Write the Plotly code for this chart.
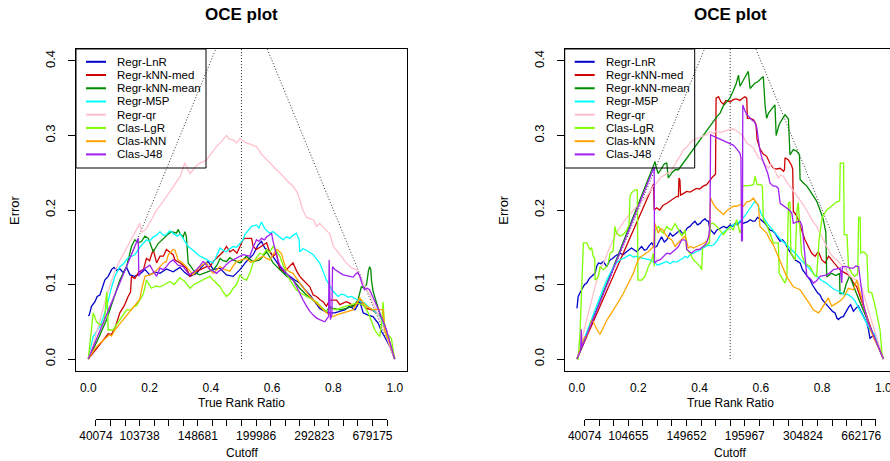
import plotly.graph_objects as go

W, H = 890, 461
FONT = "Liberation Sans, Arial, Helvetica, sans-serif"

SERIES_NAMES = ["Regr-LnR", "Regr-kNN-med", "Regr-kNN-mean", "Regr-M5P",
                "Regr-qr", "Clas-LgR", "Clas-kNN", "Clas-J48"]
SERIES_COLORS = ["#0000CD", "#CD0000", "#008B00", "#00FFFF",
                 "#FFC0CB", "#7FFF00", "#FFA500", "#A020F0"]

X_TICKS = [0.0, 0.2, 0.4, 0.6, 0.8, 1.0]
Y_TICKS = [0.0, 0.1, 0.2, 0.3, 0.4]

LEFT_CUTOFF_LABELS = ["40074", "103738", "148681", "199986", "292823", "679175"]
RIGHT_CUTOFF_LABELS = ["40074", "104655", "149652", "195967", "304824", "662176"]
CUTOFF_LABEL_SLOTS = [0, 3, 7, 11, 15, 19]
CUTOFF_TICK_COUNT = 21
CUTOFF_SPAN = (0.025, 0.975)

# ---------------- left panel: (true rank ratio, error) ----------------
LEFT_LNR = [(0, 0.058), (0.003, 0.059), (0.011, 0.071), (0.022, 0.077), (0.029, 0.084),
            (0.038, 0.086), (0.047, 0.097), (0.054, 0.106), (0.065, 0.111), (0.076, 0.120),
            (0.084, 0.123), (0.092, 0.119), (0.103, 0.121), (0.114, 0.116), (0.125, 0.123),
            (0.136, 0.113), (0.152, 0.111), (0.168, 0.114), (0.185, 0.120), (0.201, 0.113),
            (0.217, 0.117), (0.234, 0.115), (0.255, 0.121), (0.277, 0.117), (0.299, 0.123),
            (0.315, 0.116), (0.332, 0.111), (0.353, 0.115), (0.375, 0.126), (0.391, 0.131),
            (0.408, 0.120), (0.429, 0.122), (0.451, 0.113), (0.473, 0.111), (0.495, 0.120),
            (0.516, 0.131), (0.538, 0.140), (0.554, 0.153), (0.565, 0.158), (0.576, 0.149),
            (0.592, 0.144), (0.609, 0.133), (0.625, 0.124), (0.641, 0.115), (0.658, 0.111),
            (0.674, 0.106), (0.690, 0.102), (0.707, 0.093), (0.723, 0.086), (0.739, 0.077),
            (0.755, 0.068), (0.772, 0.064), (0.788, 0.062), (0.804, 0.062), (0.821, 0.064),
            (0.837, 0.066), (0.853, 0.071), (0.870, 0.066), (0.886, 0.077), (0.897, 0.062),
            (0.913, 0.059), (0.929, 0.057), (0.946, 0.048), (0.957, 0.037), (0.967, 0.030),
            (0.984, 0.017), (1.0, 0.0)]

LEFT_KNN_MED = [(0, 0), (0.04, 0.02), (0.065, 0.034), (0.076, 0.033), (0.09, 0.045),
                (0.103, 0.062), (0.118, 0.072), (0.13, 0.084), (0.138, 0.09), (0.141, 0.111),
                (0.152, 0.108), (0.165, 0.117), (0.18, 0.12), (0.19, 0.135), (0.2, 0.132),
                (0.212, 0.147), (0.223, 0.129), (0.234, 0.138), (0.245, 0.138), (0.255, 0.147),
                (0.266, 0.144), (0.277, 0.14), (0.283, 0.133), (0.3, 0.129), (0.32, 0.122),
                (0.332, 0.111), (0.345, 0.116), (0.364, 0.12), (0.386, 0.124), (0.397, 0.124),
                (0.41, 0.132), (0.43, 0.14), (0.44, 0.144), (0.451, 0.151), (0.462, 0.144),
                (0.473, 0.147), (0.485, 0.142), (0.495, 0.151), (0.505, 0.16), (0.511, 0.162),
                (0.533, 0.162), (0.538, 0.151), (0.549, 0.147), (0.56, 0.15), (0.582, 0.156),
                (0.59, 0.146), (0.603, 0.138), (0.614, 0.142), (0.625, 0.12), (0.636, 0.118),
                (0.647, 0.12), (0.658, 0.125), (0.668, 0.129), (0.68, 0.118), (0.69, 0.111),
                (0.701, 0.106), (0.712, 0.102), (0.723, 0.097), (0.734, 0.086), (0.745, 0.084),
                (0.755, 0.08), (0.766, 0.077), (0.777, 0.071), (0.788, 0.079), (0.81, 0.079),
                (0.821, 0.073), (0.842, 0.077), (0.853, 0.075), (0.864, 0.071), (0.875, 0.073),
                (0.886, 0.08), (0.897, 0.072), (0.908, 0.068), (0.925, 0.066), (0.94, 0.062),
                (0.952, 0.058), (0.962, 0.053), (0.975, 0.035), (0.988, 0.018), (1, 0)]

LEFT_KNN_MEAN = [(0, 0), (0.03, 0.025), (0.06, 0.053), (0.082, 0.079), (0.103, 0.106),
                 (0.125, 0.124), (0.135, 0.14), (0.141, 0.151), (0.152, 0.16), (0.163, 0.156),
                 (0.174, 0.158), (0.185, 0.165), (0.196, 0.162), (0.205, 0.15), (0.212, 0.144),
                 (0.228, 0.155), (0.24, 0.16), (0.25, 0.164), (0.262, 0.168), (0.272, 0.171),
                 (0.288, 0.169), (0.293, 0.174), (0.3, 0.168), (0.31, 0.164), (0.315, 0.171),
                 (0.32, 0.165), (0.326, 0.129), (0.342, 0.12), (0.353, 0.115), (0.364, 0.113),
                 (0.386, 0.117), (0.408, 0.12), (0.42, 0.126), (0.43, 0.135), (0.44, 0.132),
                 (0.451, 0.131), (0.462, 0.136), (0.473, 0.133), (0.495, 0.129), (0.505, 0.133),
                 (0.516, 0.138), (0.527, 0.134), (0.538, 0.131), (0.56, 0.133), (0.571, 0.138),
                 (0.582, 0.144), (0.592, 0.137), (0.603, 0.129), (0.625, 0.12), (0.647, 0.111),
                 (0.668, 0.106), (0.68, 0.1), (0.69, 0.095), (0.712, 0.086), (0.734, 0.079),
                 (0.755, 0.071), (0.766, 0.066), (0.777, 0.064), (0.788, 0.07), (0.799, 0.068),
                 (0.821, 0.066), (0.842, 0.068), (0.864, 0.071), (0.88, 0.079), (0.888, 0.09),
                 (0.891, 0.097), (0.9, 0.095), (0.908, 0.1), (0.914, 0.118), (0.918, 0.124),
                 (0.922, 0.12), (0.924, 0.106), (0.93, 0.09), (0.94, 0.075), (0.952, 0.06),
                 (0.962, 0.048), (0.975, 0.032), (0.988, 0.016), (1, 0)]

LEFT_M5P = [(0, 0), (0.016, 0.03), (0.04, 0.045), (0.06, 0.07), (0.075, 0.095),
            (0.087, 0.111), (0.103, 0.124), (0.115, 0.128), (0.13, 0.136), (0.152, 0.14),
            (0.168, 0.15), (0.18, 0.156), (0.19, 0.16), (0.2, 0.158), (0.212, 0.164),
            (0.223, 0.166), (0.234, 0.171), (0.245, 0.166), (0.255, 0.167), (0.266, 0.172),
            (0.277, 0.169), (0.29, 0.165), (0.3, 0.168), (0.31, 0.162), (0.326, 0.151),
            (0.342, 0.146), (0.353, 0.142), (0.364, 0.138), (0.375, 0.136), (0.386, 0.133),
            (0.397, 0.131), (0.408, 0.129), (0.418, 0.138), (0.43, 0.149), (0.44, 0.146),
            (0.451, 0.144), (0.462, 0.148), (0.473, 0.151), (0.484, 0.15), (0.495, 0.155),
            (0.505, 0.16), (0.511, 0.167), (0.522, 0.172), (0.533, 0.178), (0.549, 0.18),
            (0.557, 0.176), (0.565, 0.184), (0.576, 0.175), (0.592, 0.169), (0.603, 0.171),
            (0.614, 0.167), (0.625, 0.163), (0.636, 0.16), (0.647, 0.164), (0.658, 0.162),
            (0.668, 0.166), (0.679, 0.169), (0.688, 0.16), (0.69, 0.144), (0.7, 0.148),
            (0.712, 0.146), (0.723, 0.143), (0.734, 0.14), (0.745, 0.134), (0.755, 0.129),
            (0.766, 0.118), (0.777, 0.106), (0.788, 0.098), (0.799, 0.091), (0.815, 0.084),
            (0.826, 0.087), (0.837, 0.086), (0.848, 0.083), (0.859, 0.084), (0.87, 0.081),
            (0.88, 0.079), (0.89, 0.077), (0.902, 0.075), (0.915, 0.07), (0.929, 0.066),
            (0.94, 0.062), (0.951, 0.057), (0.962, 0.048), (0.973, 0.035), (0.987, 0.018),
            (1, 0)]

LEFT_QR = [(0, 0), (0.02, 0.025), (0.04, 0.055), (0.06, 0.085), (0.08, 0.11), (0.1, 0.13),
           (0.12, 0.145), (0.14, 0.16), (0.16, 0.175), (0.168, 0.182), (0.175, 0.17),
           (0.19, 0.175), (0.21, 0.19), (0.223, 0.2), (0.245, 0.212), (0.266, 0.225),
           (0.277, 0.231), (0.3, 0.245), (0.315, 0.263), (0.332, 0.249), (0.35, 0.258),
           (0.364, 0.263), (0.386, 0.267), (0.4, 0.275), (0.418, 0.285), (0.435, 0.292),
           (0.451, 0.3), (0.46, 0.295), (0.473, 0.294), (0.485, 0.29), (0.495, 0.296),
           (0.505, 0.293), (0.516, 0.29), (0.53, 0.288), (0.549, 0.285), (0.565, 0.275),
           (0.582, 0.267), (0.6, 0.26), (0.614, 0.254), (0.63, 0.248), (0.647, 0.24),
           (0.668, 0.232), (0.68, 0.225), (0.69, 0.214), (0.7, 0.2), (0.712, 0.19),
           (0.734, 0.187), (0.745, 0.178), (0.755, 0.182), (0.77, 0.175), (0.788, 0.168),
           (0.8, 0.151), (0.82, 0.14), (0.842, 0.129), (0.86, 0.122), (0.875, 0.12),
           (0.885, 0.113), (0.9, 0.1), (0.92, 0.085), (0.94, 0.065), (0.96, 0.045),
           (0.98, 0.022), (1, 0)]

LEFT_LGR = [(0, 0), (0.005, 0.021), (0.011, 0.05), (0.016, 0.062), (0.027, 0.05),
            (0.038, 0.046), (0.05, 0.048), (0.055, 0.06), (0.06, 0.09), (0.063, 0.07),
            (0.065, 0.039), (0.082, 0.039), (0.09, 0.045), (0.103, 0.053), (0.115, 0.06),
            (0.125, 0.066), (0.141, 0.066), (0.147, 0.07), (0.158, 0.072), (0.168, 0.08),
            (0.18, 0.088), (0.19, 0.106), (0.198, 0.1), (0.206, 0.095), (0.22, 0.098),
            (0.234, 0.097), (0.25, 0.1), (0.266, 0.104), (0.28, 0.1), (0.299, 0.109),
            (0.315, 0.104), (0.332, 0.095), (0.345, 0.1), (0.364, 0.104), (0.38, 0.108),
            (0.397, 0.111), (0.41, 0.105), (0.43, 0.097), (0.44, 0.09), (0.451, 0.084),
            (0.462, 0.088), (0.473, 0.095), (0.484, 0.1), (0.495, 0.113), (0.505, 0.108),
            (0.516, 0.106), (0.527, 0.115), (0.538, 0.129), (0.549, 0.136), (0.56, 0.142),
            (0.571, 0.14), (0.582, 0.147), (0.592, 0.143), (0.603, 0.151), (0.614, 0.145),
            (0.625, 0.138), (0.636, 0.126), (0.647, 0.115), (0.66, 0.105), (0.679, 0.093),
            (0.695, 0.088), (0.712, 0.084), (0.728, 0.08), (0.745, 0.077), (0.76, 0.07),
            (0.777, 0.064), (0.79, 0.068), (0.81, 0.066), (0.825, 0.069), (0.842, 0.071),
            (0.86, 0.073), (0.875, 0.075), (0.897, 0.073), (0.91, 0.065), (0.918, 0.057),
            (0.927, 0.047), (0.935, 0.039), (0.945, 0.033), (0.951, 0.03), (0.958, 0.05),
            (0.962, 0.077), (0.966, 0.05), (0.973, 0.03), (0.982, 0.031), (0.989, 0.028),
            (0.995, 0.012), (1, 0)]

LEFT_KNN = [(0, 0), (0.02, 0.013), (0.04, 0.022), (0.06, 0.03), (0.07, 0.033), (0.076, 0.031),
            (0.087, 0.039), (0.1, 0.046), (0.114, 0.053), (0.13, 0.062), (0.147, 0.071),
            (0.16, 0.076), (0.168, 0.08), (0.175, 0.095), (0.185, 0.111), (0.2, 0.113),
            (0.212, 0.115), (0.225, 0.12), (0.245, 0.129), (0.255, 0.131), (0.261, 0.14),
            (0.277, 0.147), (0.283, 0.146), (0.293, 0.133), (0.305, 0.13), (0.32, 0.124),
            (0.332, 0.118), (0.342, 0.113), (0.353, 0.119), (0.364, 0.124), (0.375, 0.127),
            (0.386, 0.129), (0.397, 0.12), (0.408, 0.115), (0.42, 0.12), (0.43, 0.124),
            (0.445, 0.12), (0.462, 0.118), (0.473, 0.125), (0.484, 0.131), (0.5, 0.133),
            (0.516, 0.135), (0.53, 0.13), (0.549, 0.133), (0.56, 0.136), (0.571, 0.138),
            (0.582, 0.135), (0.592, 0.133), (0.603, 0.14), (0.614, 0.147), (0.622, 0.145),
            (0.63, 0.142), (0.638, 0.13), (0.647, 0.12), (0.658, 0.117), (0.668, 0.115),
            (0.68, 0.108), (0.69, 0.102), (0.705, 0.094), (0.723, 0.084), (0.74, 0.077),
            (0.755, 0.071), (0.766, 0.066), (0.777, 0.062), (0.788, 0.06), (0.799, 0.057),
            (0.815, 0.06), (0.832, 0.062), (0.848, 0.064), (0.864, 0.066), (0.875, 0.074),
            (0.886, 0.082), (0.897, 0.076), (0.908, 0.071), (0.92, 0.068), (0.929, 0.066),
            (0.945, 0.067), (0.962, 0.066), (0.965, 0.05), (0.967, 0.039), (0.98, 0.025),
            (0.99, 0.012), (1, 0)]

LEFT_J48 = [(0, 0), (0.163, 0.162), (0.165, 0.111), (0.172, 0.118), (0.179, 0.12),
            (0.19, 0.123), (0.201, 0.126), (0.212, 0.118), (0.223, 0.111), (0.234, 0.122),
            (0.245, 0.12), (0.255, 0.124), (0.266, 0.13), (0.277, 0.133), (0.285, 0.13),
            (0.293, 0.126), (0.31, 0.124), (0.32, 0.118), (0.332, 0.113), (0.342, 0.116),
            (0.353, 0.12), (0.364, 0.125), (0.375, 0.131), (0.386, 0.126), (0.397, 0.12),
            (0.408, 0.118), (0.418, 0.115), (0.43, 0.119), (0.44, 0.122), (0.451, 0.127),
            (0.462, 0.131), (0.473, 0.133), (0.484, 0.135), (0.495, 0.138), (0.505, 0.14),
            (0.516, 0.139), (0.527, 0.138), (0.538, 0.15), (0.549, 0.16), (0.557, 0.158),
            (0.565, 0.162), (0.575, 0.16), (0.582, 0.164), (0.59, 0.166), (0.598, 0.169),
            (0.603, 0.158), (0.609, 0.146), (0.617, 0.135), (0.625, 0.126), (0.636, 0.12),
            (0.647, 0.115), (0.658, 0.11), (0.668, 0.106), (0.68, 0.097), (0.69, 0.088),
            (0.7, 0.08), (0.712, 0.071), (0.723, 0.064), (0.734, 0.059), (0.745, 0.055),
            (0.755, 0.053), (0.765, 0.051), (0.772, 0.05), (0.78, 0.055), (0.784, 0.057),
            (0.786, 0.133), (0.788, 0.09), (0.79, 0.053), (0.795, 0.06), (0.797, 0.124),
            (0.805, 0.12), (0.815, 0.118), (0.82, 0.116), (0.832, 0.113), (0.842, 0.112),
            (0.853, 0.111), (0.864, 0.11), (0.875, 0.115), (0.88, 0.116), (0.886, 0.111),
            (0.894, 0.1), (0.902, 0.093), (0.91, 0.095), (0.918, 0.093), (0.926, 0.086),
            (0.935, 0.079), (0.943, 0.07), (0.951, 0.062), (0.962, 0.05), (0.973, 0.039),
            (0.986, 0.02), (1, 0)]

# ---------------- right panel ----------------
RIGHT_LNR = [(0, 0.068), (0.004, 0.084), (0.015, 0.093), (0.025, 0.1), (0.032, 0.102),
             (0.04, 0.108), (0.048, 0.111), (0.059, 0.115), (0.065, 0.125), (0.07, 0.129),
             (0.078, 0.128), (0.086, 0.131), (0.097, 0.124), (0.108, 0.133), (0.116, 0.135),
             (0.124, 0.138), (0.14, 0.142), (0.15, 0.14), (0.162, 0.144), (0.17, 0.146),
             (0.178, 0.149), (0.195, 0.144), (0.211, 0.151), (0.22, 0.146), (0.227, 0.147),
             (0.235, 0.152), (0.244, 0.156), (0.252, 0.15), (0.26, 0.151), (0.268, 0.158),
             (0.276, 0.164), (0.285, 0.157), (0.293, 0.16), (0.304, 0.169), (0.312, 0.165),
             (0.32, 0.167), (0.328, 0.17), (0.336, 0.173), (0.345, 0.168), (0.353, 0.171),
             (0.36, 0.176), (0.369, 0.178), (0.377, 0.182), (0.385, 0.185), (0.393, 0.18),
             (0.402, 0.182), (0.41, 0.186), (0.418, 0.188), (0.425, 0.185), (0.429, 0.185),
             (0.433, 0.175), (0.44, 0.171), (0.448, 0.168), (0.456, 0.173), (0.467, 0.175),
             (0.478, 0.178), (0.489, 0.176), (0.5, 0.18), (0.508, 0.178), (0.516, 0.182),
             (0.524, 0.18), (0.532, 0.185), (0.54, 0.182), (0.548, 0.183), (0.556, 0.184),
             (0.565, 0.187), (0.573, 0.185), (0.581, 0.185), (0.589, 0.19), (0.597, 0.188),
             (0.605, 0.185), (0.614, 0.182), (0.622, 0.177), (0.63, 0.173), (0.638, 0.172),
             (0.646, 0.169), (0.655, 0.163), (0.663, 0.158), (0.671, 0.16), (0.679, 0.156),
             (0.687, 0.149), (0.695, 0.144), (0.703, 0.138), (0.712, 0.133), (0.72, 0.131),
             (0.728, 0.129), (0.736, 0.12), (0.744, 0.115), (0.752, 0.11), (0.761, 0.106),
             (0.769, 0.099), (0.777, 0.093), (0.785, 0.089), (0.793, 0.086), (0.8, 0.08),
             (0.81, 0.075), (0.818, 0.071), (0.826, 0.068), (0.834, 0.064), (0.842, 0.062),
             (0.848, 0.055), (0.853, 0.053), (0.861, 0.056), (0.869, 0.057), (0.875, 0.062),
             (0.88, 0.066), (0.887, 0.07), (0.893, 0.073), (0.898, 0.068), (0.902, 0.064),
             (0.91, 0.068), (0.918, 0.071), (0.924, 0.066), (0.929, 0.062), (0.938, 0.055),
             (0.946, 0.048), (0.951, 0.04), (0.956, 0.028), (0.962, 0.03), (0.968, 0.032),
             (0.975, 0.025), (0.985, 0.015), (1, 0)]

RIGHT_KNN_MED = [(0, 0), (0.25, 0.235), (0.252, 0.2), (0.26, 0.203), (0.27, 0.2),
                 (0.28, 0.206), (0.293, 0.209), (0.304, 0.212), (0.314, 0.214), (0.325, 0.218),
                 (0.331, 0.218), (0.333, 0.243), (0.336, 0.24), (0.338, 0.22), (0.347, 0.222),
                 (0.358, 0.225), (0.369, 0.224), (0.38, 0.227), (0.39, 0.229), (0.4, 0.228),
                 (0.412, 0.232), (0.423, 0.234), (0.434, 0.24), (0.444, 0.245), (0.452, 0.248),
                 (0.454, 0.35), (0.462, 0.352), (0.47, 0.345), (0.478, 0.342), (0.486, 0.347),
                 (0.5, 0.345), (0.51, 0.348), (0.52, 0.349), (0.532, 0.347), (0.54, 0.35),
                 (0.548, 0.352), (0.554, 0.35), (0.556, 0.323), (0.565, 0.323), (0.576, 0.321),
                 (0.584, 0.315), (0.588, 0.294), (0.597, 0.282), (0.608, 0.275), (0.619, 0.272),
                 (0.63, 0.262), (0.641, 0.256), (0.652, 0.255), (0.663, 0.256), (0.674, 0.252),
                 (0.677, 0.254), (0.679, 0.27), (0.69, 0.267), (0.7, 0.26), (0.704, 0.255),
                 (0.706, 0.198), (0.714, 0.194), (0.722, 0.187), (0.733, 0.173), (0.744, 0.16),
                 (0.755, 0.151), (0.766, 0.142), (0.777, 0.138), (0.788, 0.144), (0.799, 0.133),
                 (0.81, 0.129), (0.821, 0.138), (0.831, 0.133), (0.842, 0.127), (0.853, 0.122),
                 (0.864, 0.118), (0.875, 0.115), (0.886, 0.113), (0.895, 0.108), (0.902, 0.102),
                 (0.913, 0.097), (0.924, 0.084), (0.935, 0.07), (0.946, 0.057), (0.957, 0.044),
                 (0.967, 0.03), (0.985, 0.015), (1, 0)]

RIGHT_KNN_MEAN = [(0, 0), (0.255, 0.265), (0.258, 0.258), (0.265, 0.249), (0.275, 0.255),
                  (0.285, 0.262), (0.293, 0.263), (0.298, 0.243), (0.31, 0.25), (0.32, 0.254),
                  (0.331, 0.254), (0.345, 0.262), (0.36, 0.27), (0.375, 0.278), (0.385, 0.285),
                  (0.396, 0.29), (0.41, 0.298), (0.42, 0.304), (0.434, 0.312), (0.445, 0.318),
                  (0.456, 0.325), (0.467, 0.33), (0.478, 0.34), (0.489, 0.345), (0.499, 0.35),
                  (0.51, 0.36), (0.52, 0.37), (0.527, 0.381), (0.532, 0.366), (0.54, 0.372),
                  (0.55, 0.38), (0.559, 0.386), (0.565, 0.363), (0.572, 0.366), (0.58, 0.37),
                  (0.59, 0.372), (0.6, 0.376), (0.608, 0.379), (0.614, 0.339), (0.619, 0.323),
                  (0.625, 0.33), (0.635, 0.336), (0.646, 0.341), (0.65, 0.3), (0.66, 0.315),
                  (0.67, 0.322), (0.679, 0.328), (0.69, 0.322), (0.695, 0.274), (0.706, 0.281),
                  (0.717, 0.279), (0.726, 0.274), (0.728, 0.241), (0.74, 0.236), (0.75, 0.232),
                  (0.76, 0.226), (0.771, 0.218), (0.782, 0.212), (0.793, 0.2), (0.804, 0.187),
                  (0.812, 0.17), (0.815, 0.11), (0.83, 0.115), (0.845, 0.112), (0.857, 0.115),
                  (0.858, 0.088), (0.87, 0.088), (0.878, 0.1), (0.89, 0.112), (0.9, 0.1),
                  (0.912, 0.088), (0.924, 0.076), (0.935, 0.065), (0.946, 0.054), (0.957, 0.043),
                  (0.97, 0.03), (0.985, 0.015), (1, 0)]

RIGHT_M5P = [(0, 0), (0.01, 0.015), (0.026, 0.03), (0.042, 0.048), (0.059, 0.066),
             (0.075, 0.084), (0.086, 0.095), (0.097, 0.106), (0.105, 0.113), (0.113, 0.12),
             (0.121, 0.125), (0.129, 0.129), (0.14, 0.133), (0.151, 0.135), (0.162, 0.138),
             (0.173, 0.14), (0.184, 0.137), (0.195, 0.138), (0.206, 0.136), (0.217, 0.135),
             (0.228, 0.134), (0.238, 0.133), (0.246, 0.131), (0.255, 0.129), (0.263, 0.126),
             (0.271, 0.127), (0.282, 0.129), (0.293, 0.131), (0.304, 0.128), (0.314, 0.131),
             (0.325, 0.13), (0.336, 0.133), (0.345, 0.135), (0.353, 0.138), (0.361, 0.136),
             (0.369, 0.14), (0.38, 0.142), (0.391, 0.144), (0.4, 0.146), (0.412, 0.149),
             (0.42, 0.151), (0.429, 0.153), (0.437, 0.152), (0.445, 0.153), (0.456, 0.158),
             (0.467, 0.166), (0.478, 0.17), (0.489, 0.174), (0.5, 0.177), (0.51, 0.18),
             (0.52, 0.181), (0.532, 0.185), (0.54, 0.188), (0.548, 0.192), (0.556, 0.197),
             (0.565, 0.203), (0.573, 0.208), (0.581, 0.212), (0.587, 0.209), (0.592, 0.205),
             (0.6, 0.196), (0.608, 0.19), (0.616, 0.185), (0.625, 0.18), (0.633, 0.176),
             (0.641, 0.172), (0.649, 0.168), (0.657, 0.163), (0.665, 0.16), (0.674, 0.157),
             (0.684, 0.153), (0.695, 0.149), (0.706, 0.144), (0.717, 0.14), (0.728, 0.134),
             (0.739, 0.13), (0.75, 0.125), (0.761, 0.12), (0.769, 0.116), (0.777, 0.112),
             (0.785, 0.11), (0.793, 0.107), (0.8, 0.105), (0.81, 0.103), (0.818, 0.1),
             (0.826, 0.097), (0.834, 0.095), (0.842, 0.093), (0.85, 0.092), (0.859, 0.09),
             (0.867, 0.088), (0.875, 0.086), (0.883, 0.087), (0.891, 0.085), (0.899, 0.082),
             (0.907, 0.078), (0.915, 0.072), (0.924, 0.064), (0.932, 0.058), (0.94, 0.053),
             (0.948, 0.046), (0.956, 0.039), (0.965, 0.036), (0.973, 0.033), (0.985, 0.017),
             (1, 0)]

RIGHT_QR = [(0, 0), (0.01, 0.013), (0.021, 0.035), (0.032, 0.053), (0.042, 0.07),
            (0.053, 0.089), (0.064, 0.105), (0.075, 0.12), (0.083, 0.126), (0.091, 0.133),
            (0.102, 0.145), (0.113, 0.156), (0.124, 0.165), (0.135, 0.173), (0.146, 0.18),
            (0.157, 0.187), (0.17, 0.193), (0.184, 0.2), (0.195, 0.205), (0.206, 0.209),
            (0.217, 0.214), (0.227, 0.218), (0.24, 0.226), (0.249, 0.232), (0.26, 0.236),
            (0.271, 0.243), (0.282, 0.246), (0.293, 0.249), (0.304, 0.25), (0.314, 0.258),
            (0.325, 0.265), (0.336, 0.272), (0.347, 0.281), (0.358, 0.284), (0.369, 0.29),
            (0.38, 0.294), (0.391, 0.296), (0.402, 0.298), (0.412, 0.299), (0.423, 0.301),
            (0.434, 0.305), (0.445, 0.303), (0.456, 0.306), (0.467, 0.304), (0.478, 0.305),
            (0.489, 0.306), (0.5, 0.308), (0.51, 0.309), (0.521, 0.306), (0.532, 0.303),
            (0.543, 0.298), (0.554, 0.29), (0.565, 0.287), (0.576, 0.283), (0.584, 0.277),
            (0.592, 0.27), (0.6, 0.268), (0.608, 0.265), (0.616, 0.26), (0.625, 0.256),
            (0.633, 0.262), (0.641, 0.258), (0.649, 0.25), (0.657, 0.243), (0.665, 0.247),
            (0.674, 0.245), (0.684, 0.238), (0.695, 0.232), (0.706, 0.226), (0.717, 0.22),
            (0.728, 0.213), (0.739, 0.207), (0.75, 0.199), (0.761, 0.191), (0.771, 0.184),
            (0.782, 0.178), (0.793, 0.168), (0.804, 0.16), (0.815, 0.151), (0.826, 0.142),
            (0.837, 0.137), (0.848, 0.133), (0.859, 0.128), (0.87, 0.124), (0.88, 0.118),
            (0.891, 0.111), (0.902, 0.108), (0.913, 0.106), (0.921, 0.1), (0.929, 0.097),
            (0.937, 0.085), (0.946, 0.071), (0.956, 0.058), (0.967, 0.044), (0.98, 0.027),
            (1, 0)]

RIGHT_LGR = [(0, 0), (0.004, 0.0), (0.01, 0.035), (0.015, 0.1), (0.021, 0.156), (0.032, 0.156),
             (0.042, 0.147), (0.048, 0.149), (0.053, 0.138), (0.058, 0.135), (0.059, 0.106),
             (0.065, 0.108), (0.07, 0.111), (0.075, 0.124), (0.086, 0.12), (0.097, 0.124),
             (0.103, 0.13), (0.108, 0.142), (0.118, 0.145), (0.124, 0.178), (0.129, 0.169),
             (0.14, 0.165), (0.151, 0.167), (0.162, 0.173), (0.17, 0.18), (0.173, 0.218),
             (0.178, 0.223), (0.189, 0.227), (0.197, 0.227), (0.199, 0.106), (0.211, 0.106),
             (0.222, 0.111), (0.233, 0.124), (0.244, 0.133), (0.249, 0.142), (0.252, 0.124),
             (0.255, 0.173), (0.266, 0.178), (0.274, 0.172), (0.282, 0.169), (0.293, 0.178),
             (0.3, 0.175), (0.309, 0.173), (0.32, 0.182), (0.331, 0.173), (0.342, 0.165),
             (0.353, 0.173), (0.358, 0.147), (0.369, 0.142), (0.38, 0.133), (0.391, 0.129),
             (0.402, 0.124), (0.407, 0.12), (0.41, 0.151), (0.423, 0.153), (0.432, 0.156),
             (0.436, 0.182), (0.445, 0.182), (0.456, 0.178), (0.467, 0.173), (0.478, 0.167),
             (0.489, 0.173), (0.5, 0.178), (0.51, 0.173), (0.521, 0.187), (0.532, 0.169),
             (0.537, 0.175), (0.54, 0.232), (0.55, 0.232), (0.565, 0.233), (0.576, 0.234),
             (0.581, 0.245), (0.588, 0.234), (0.6, 0.234), (0.605, 0.232), (0.608, 0.187),
             (0.619, 0.18), (0.63, 0.169), (0.641, 0.156), (0.657, 0.156), (0.66, 0.115),
             (0.67, 0.108), (0.679, 0.102), (0.685, 0.111), (0.69, 0.209), (0.695, 0.211),
             (0.698, 0.142), (0.712, 0.133), (0.718, 0.2), (0.722, 0.21), (0.726, 0.187),
             (0.733, 0.14), (0.745, 0.128), (0.761, 0.124), (0.775, 0.112), (0.782, 0.111),
             (0.79, 0.16), (0.8, 0.19), (0.815, 0.2), (0.83, 0.205), (0.848, 0.211),
             (0.857, 0.212), (0.859, 0.263), (0.87, 0.263), (0.872, 0.167), (0.881, 0.167),
             (0.886, 0.124), (0.897, 0.115), (0.905, 0.111), (0.916, 0.114), (0.919, 0.19),
             (0.924, 0.19), (0.926, 0.142), (0.935, 0.144), (0.946, 0.14), (0.951, 0.09),
             (0.962, 0.089), (0.973, 0.071), (0.982, 0.05), (0.989, 0.039), (0.995, 0.008),
             (1, 0)]

RIGHT_KNN = [(0, 0), (0.01, 0.013), (0.015, 0.02), (0.021, 0.026), (0.026, 0.03), (0.032, 0.03),
             (0.04, 0.04), (0.048, 0.053), (0.053, 0.05), (0.059, 0.044), (0.065, 0.04),
             (0.075, 0.033), (0.083, 0.04), (0.091, 0.048), (0.1, 0.054), (0.11, 0.06),
             (0.119, 0.066), (0.13, 0.072), (0.14, 0.08), (0.151, 0.088), (0.162, 0.097),
             (0.173, 0.106), (0.184, 0.115), (0.192, 0.125), (0.2, 0.133), (0.208, 0.137),
             (0.217, 0.14), (0.225, 0.142), (0.233, 0.144), (0.242, 0.148), (0.25, 0.151),
             (0.254, 0.182), (0.26, 0.176), (0.265, 0.169), (0.273, 0.175), (0.282, 0.173),
             (0.288, 0.168), (0.293, 0.165), (0.301, 0.162), (0.309, 0.16), (0.315, 0.155),
             (0.32, 0.151), (0.328, 0.155), (0.336, 0.158), (0.345, 0.162), (0.353, 0.165),
             (0.358, 0.158), (0.363, 0.149), (0.371, 0.151), (0.38, 0.149), (0.391, 0.151),
             (0.402, 0.153), (0.412, 0.155), (0.423, 0.158), (0.432, 0.165), (0.434, 0.195),
             (0.436, 0.216), (0.445, 0.208), (0.456, 0.202), (0.467, 0.198), (0.478, 0.194),
             (0.489, 0.199), (0.5, 0.202), (0.51, 0.205), (0.521, 0.205), (0.532, 0.207),
             (0.543, 0.205), (0.554, 0.211), (0.565, 0.212), (0.576, 0.216), (0.584, 0.21),
             (0.592, 0.207), (0.597, 0.178), (0.608, 0.173), (0.619, 0.169), (0.63, 0.16),
             (0.641, 0.153), (0.652, 0.142), (0.663, 0.131), (0.674, 0.12), (0.684, 0.111),
             (0.695, 0.104), (0.706, 0.097), (0.717, 0.095), (0.728, 0.093), (0.739, 0.086),
             (0.75, 0.08), (0.761, 0.073), (0.771, 0.066), (0.78, 0.064), (0.788, 0.062),
             (0.796, 0.066), (0.804, 0.071), (0.812, 0.077), (0.82, 0.082), (0.826, 0.076),
             (0.831, 0.071), (0.84, 0.073), (0.848, 0.075), (0.858, 0.078), (0.869, 0.082),
             (0.878, 0.09), (0.886, 0.095), (0.894, 0.094), (0.902, 0.093), (0.908, 0.1),
             (0.913, 0.106), (0.918, 0.098), (0.924, 0.089), (0.935, 0.071), (0.946, 0.053),
             (0.957, 0.04), (0.967, 0.03), (0.985, 0.015), (1, 0)]

RIGHT_J48 = [(0, 0), (0.012, 0.012), (0.014, 0.04), (0.016, 0.016), (0.1, 0.102), (0.2, 0.205),
             (0.252, 0.258), (0.253, 0.129), (0.262, 0.132), (0.271, 0.133), (0.282, 0.138),
             (0.293, 0.142), (0.304, 0.141), (0.314, 0.144), (0.324, 0.148), (0.331, 0.151),
             (0.338, 0.156), (0.342, 0.16), (0.35, 0.16), (0.356, 0.158), (0.358, 0.147),
             (0.366, 0.145), (0.374, 0.142), (0.382, 0.145), (0.391, 0.147), (0.399, 0.147),
             (0.407, 0.149), (0.415, 0.152), (0.423, 0.156), (0.43, 0.165), (0.434, 0.178),
             (0.436, 0.301), (0.445, 0.299), (0.456, 0.297), (0.467, 0.294), (0.478, 0.293),
             (0.489, 0.29), (0.5, 0.289), (0.51, 0.287), (0.521, 0.282), (0.532, 0.276),
             (0.535, 0.27), (0.537, 0.158), (0.54, 0.16), (0.541, 0.341), (0.548, 0.333),
             (0.554, 0.328), (0.562, 0.325), (0.57, 0.321), (0.58, 0.318), (0.587, 0.31),
             (0.592, 0.294), (0.597, 0.28), (0.605, 0.268), (0.614, 0.258), (0.622, 0.25),
             (0.63, 0.236), (0.641, 0.232), (0.649, 0.232), (0.657, 0.229), (0.663, 0.209),
             (0.674, 0.206), (0.685, 0.203), (0.693, 0.2), (0.701, 0.196), (0.706, 0.182),
             (0.717, 0.184), (0.728, 0.185), (0.735, 0.178), (0.739, 0.16), (0.744, 0.138),
             (0.75, 0.111), (0.761, 0.108), (0.772, 0.102), (0.782, 0.105), (0.793, 0.111),
             (0.804, 0.112), (0.815, 0.113), (0.826, 0.116), (0.837, 0.12), (0.848, 0.121),
             (0.859, 0.122), (0.864, 0.102), (0.866, 0.124), (0.88, 0.124), (0.891, 0.122),
             (0.902, 0.122), (0.91, 0.125), (0.919, 0.124), (0.922, 0.111), (0.928, 0.095),
             (0.935, 0.073), (0.943, 0.06), (0.951, 0.048), (0.962, 0.038), (0.975, 0.025),
             (0.987, 0.012), (1, 0)]

LEFT_SERIES = [LEFT_LNR, LEFT_KNN_MED, LEFT_KNN_MEAN, LEFT_M5P,
               LEFT_QR, LEFT_LGR, LEFT_KNN, LEFT_J48]
RIGHT_SERIES = [RIGHT_LNR, RIGHT_KNN_MED, RIGHT_KNN_MEAN, RIGHT_M5P,
                RIGHT_QR, RIGHT_LGR, RIGHT_KNN, RIGHT_J48]

# ---------------- layout geometry (pixels) ----------------
BOX_TOP, BOX_BOTTOM = 49, 371
X_RANGE = (-0.04, 1.04)
Y_RANGE = (-0.016, 0.416)
BOX_W = 331
PX_PER_UNIT = BOX_W / (X_RANGE[1] - X_RANGE[0])
CUTOFF_LINE_Y = 419


def fx(p):
    return p / W


def fy(p):
    return 1 - p / H


fig = go.Figure()

panels = [
    dict(left=76.0, xa="x", ya="y", cx="x3", cy="y3",
         series=LEFT_SERIES, cut_labels=LEFT_CUTOFF_LABELS),
    dict(left=564.7, xa="x2", ya="y2", cx="x4", cy="y4",
         series=RIGHT_SERIES, cut_labels=RIGHT_CUTOFF_LABELS),
]

axis_font = dict(family=FONT, size=12, color="#000000")
ytick_font = dict(family=FONT, size=13, color="#000000")

for i, p in enumerate(panels):
    left = p["left"]
    right = min(left + BOX_W, W)
    x_end = X_RANGE[0] + (right - left) / PX_PER_UNIT
    centre = left + BOX_W / 2
    sfx = "" if i == 0 else "2"
    csfx = "3" if i == 0 else "4"

    # reference triangle and mid line
    fig.add_trace(go.Scatter(x=[0, 0.5, 1], y=[0, 0.5, 0], mode="lines",
                             line=dict(color="#333333", width=1, dash="1px,2px"),
                             xaxis=p["xa"], yaxis=p["ya"], showlegend=False,
                             hoverinfo="skip"))
    fig.add_trace(go.Scatter(x=[0.5, 0.5], y=[0, 0.5], mode="lines",
                             line=dict(color="#333333", width=1, dash="1px,2px"),
                             xaxis=p["xa"], yaxis=p["ya"], showlegend=False,
                             hoverinfo="skip"))

    for name, color, pts in zip(SERIES_NAMES, SERIES_COLORS, p["series"]):
        fig.add_trace(go.Scatter(x=[q[0] for q in pts], y=[q[1] for q in pts],
                                 mode="lines", name=name,
                                 line=dict(color=color, width=1.3),
                                 xaxis=p["xa"], yaxis=p["ya"], showlegend=False,
                                 hoverinfo="skip"))

    fig.layout["xaxis" + sfx] = dict(
        domain=[fx(left), fx(right)], range=[X_RANGE[0], x_end], anchor="y" + sfx,
        showgrid=False, zeroline=False, showline=True, mirror=True,
        linecolor="black", linewidth=1, ticks="", tickvals=X_TICKS,
        ticktext=["%.1f" % v for v in X_TICKS], tickfont=axis_font,
        ticklabelstandoff=6, ticklabeloverflow="allow", automargin=False)
    fig.layout["yaxis" + sfx] = dict(
        domain=[fy(BOX_BOTTOM), fy(BOX_TOP)], range=list(Y_RANGE), anchor="x" + sfx,
        showgrid=False, zeroline=False, showline=True, mirror=(i == 0),
        linecolor="black", linewidth=1, ticks="outside", ticklen=7,
        tickcolor="black", tickvals=Y_TICKS,
        ticktext=["%.1f" % v for v in Y_TICKS], tickangle=-90, tickfont=ytick_font,
        ticklabelstandoff=8, automargin=False)

    # secondary "Cutoff" axis below the panel
    c0 = left + (CUTOFF_SPAN[0] - X_RANGE[0]) * PX_PER_UNIT
    c1 = left + (CUTOFF_SPAN[1] - X_RANGE[0]) * PX_PER_UNIT
    step = (CUTOFF_SPAN[1] - CUTOFF_SPAN[0]) / (CUTOFF_TICK_COUNT - 1)
    cut_vals = [CUTOFF_SPAN[0] + k * step for k in range(CUTOFF_TICK_COUNT)]
    cut_text = [""] * CUTOFF_TICK_COUNT
    for slot, lab in zip(CUTOFF_LABEL_SLOTS, p["cut_labels"]):
        cut_text[slot] = lab
    fig.add_trace(go.Scatter(x=cut_vals, y=[0.5] * CUTOFF_TICK_COUNT, mode="markers",
                             marker=dict(opacity=0, size=1), xaxis=p["cx"],
                             yaxis=p["cy"], showlegend=False, hoverinfo="skip"))
    fig.layout["xaxis" + csfx] = dict(
        domain=[fx(c0), fx(c1)], range=list(CUTOFF_SPAN), anchor="y" + csfx,
        side="bottom", showgrid=False, zeroline=False, showline=True,
        linecolor="black", linewidth=1, ticks="outside", ticklen=6,
        tickcolor="black", tickvals=cut_vals, ticktext=cut_text,
        tickfont=axis_font, ticklabelstandoff=0, ticklabeloverflow="allow",
        automargin=False)
    fig.layout["yaxis" + csfx] = dict(
        domain=[fy(CUTOFF_LINE_Y), fy(CUTOFF_LINE_Y - 1)], range=[0, 1],
        anchor="x" + csfx, visible=False, automargin=False)

    # titles
    fig.add_annotation(x=fx(centre), y=fy(14), xref="paper", yref="paper",
                       text="<b>OCE plot</b>", showarrow=False,
                       font=dict(family=FONT, size=17, color="black"),
                       xanchor="center", yanchor="middle")
    fig.add_annotation(x=fx(centre), y=fy(403), xref="paper", yref="paper",
                       text="True Rank Ratio", showarrow=False, font=axis_font,
                       xanchor="center", yanchor="middle")
    fig.add_annotation(x=fx(centre), y=fy(453), xref="paper", yref="paper",
                       text="Cutoff", showarrow=False, font=axis_font,
                       xanchor="center", yanchor="middle")
    fig.add_annotation(x=fx(left - 62), y=fy((BOX_TOP + BOX_BOTTOM) / 2),
                       xref="paper", yref="paper", text="Error", textangle=-90,
                       showarrow=False, font=ytick_font,
                       xanchor="center", yanchor="middle")

    # legend box
    leg_right = left + 130
    fig.add_shape(type="rect", xref="paper", yref="paper",
                  x0=fx(left), x1=fx(leg_right), y0=fy(168), y1=fy(BOX_TOP),
                  line=dict(color="black", width=1), fillcolor="rgba(0,0,0,0)")
    for k, (name, color) in enumerate(zip(SERIES_NAMES, SERIES_COLORS)):
        ry = 61.8 + 13.23 * k
        fig.add_shape(type="line", xref="paper", yref="paper",
                      x0=fx(left + 10), x1=fx(left + 30), y0=fy(ry), y1=fy(ry),
                      line=dict(color=color, width=2))
        fig.add_annotation(x=fx(left + 39), y=fy(ry), xref="paper", yref="paper",
                           text=name, showarrow=False, xanchor="left",
                           yanchor="middle",
                           font=dict(family=FONT, size=11.5, color="black"))

fig.update_layout(width=W, height=H,
                  margin=dict(l=0, r=0, t=0, b=0, pad=0, autoexpand=False),
                  paper_bgcolor="white", plot_bgcolor="white",
                  showlegend=False, hovermode=False,
                  font=dict(family=FONT, color="black"))

fig.write_html("out.html")
